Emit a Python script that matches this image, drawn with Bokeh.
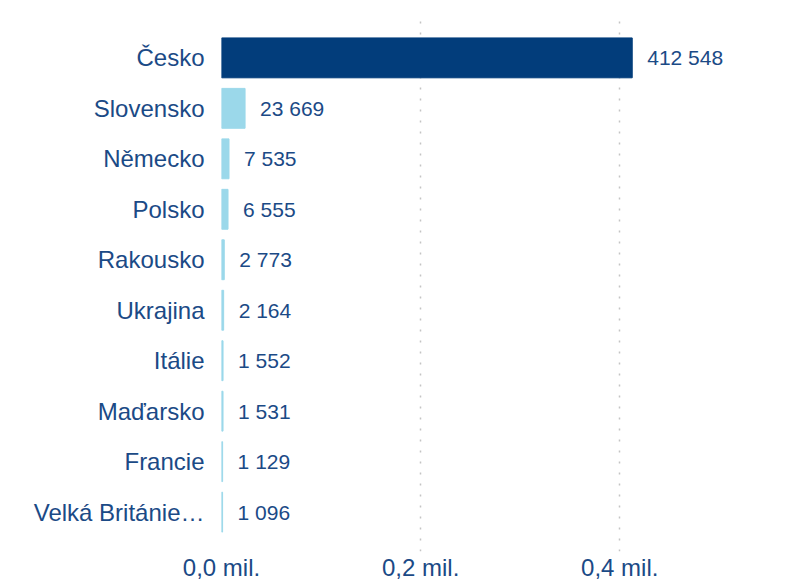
from bokeh.plotting import figure
from bokeh.models import ColumnDataSource, FactorRange, Range1d, FixedTicker
from bokeh.embed import file_html
from bokeh.resources import INLINE

countries = ["Česko", "Slovensko", "Německo", "Polsko", "Rakousko", "Ukrajina",
             "Itálie", "Maďarsko", "Francie", "Velká Británie…"]
visitors = [412548, 23669, 7535, 6555, 2773, 2164, 1552, 1531, 1129, 1096]
tick_values = [0, 200000, 400000, 600000]
tick_labels = ["0,0 mil.", "0,2 mil.", "0,4 mil.", "0,6 mil."]

DARK = "#023d7b"
LIGHT = "#9bd8ea"
TEXT = "#1b4a86"
FONT = "Liberation Sans"

labels = [f"{v:,}".replace(",", " ") for v in visitors]
colors = [DARK if i == 0 else LIGHT for i in range(len(countries))]
src = ColumnDataSource(dict(cat=countries, val=visitors, lab=labels, col=colors))

y_range = FactorRange(factors=list(reversed(countries)), range_padding=0.28,
                      range_padding_units="absolute")
x_range = Range1d(0, 566500)

p = figure(width=785, height=583, y_range=y_range, x_range=x_range,
           output_backend="svg", toolbar_location=None,
           min_border_left=221, min_border_right=0, min_border_top=18,
           min_border_bottom=28)
p.outline_line_color = None
p.background_fill_color = "white"
p.border_fill_color = "white"

p.hbar(y="cat", right="val", left=0, height=0.79, color="col", source=src)
p.text(x="val", y="cat", text="lab", source=src, x_offset=15,
       text_baseline="middle", text_align="left", text_color=TEXT,
       text_font_size="21px", text_font={"value": FONT})

p.ygrid.grid_line_color = None
p.xgrid.grid_line_color = "#c4c4c4"
p.xgrid.grid_line_dash = "2 9"
p.xgrid.grid_line_width = 1.5
p.xgrid.ticker = FixedTicker(ticks=tick_values)

p.xaxis.ticker = FixedTicker(ticks=tick_values)
p.xaxis.major_label_overrides = dict(zip(tick_values, tick_labels))
for ax in (p.xaxis, p.yaxis):
    ax.axis_line_color = None
    ax.major_tick_line_color = None
    ax.minor_tick_line_color = None
    ax.major_tick_out = 0
    ax.major_tick_in = 0
    ax.minor_tick_out = 0
    ax.minor_tick_in = 0
    ax.major_label_text_color = TEXT
    ax.major_label_text_font = FONT
    ax.major_label_text_font_size = "24px"
p.xaxis.major_label_standoff = 2
p.yaxis.major_label_standoff = 17

open("out.html", "w").write(file_html(p, INLINE))
